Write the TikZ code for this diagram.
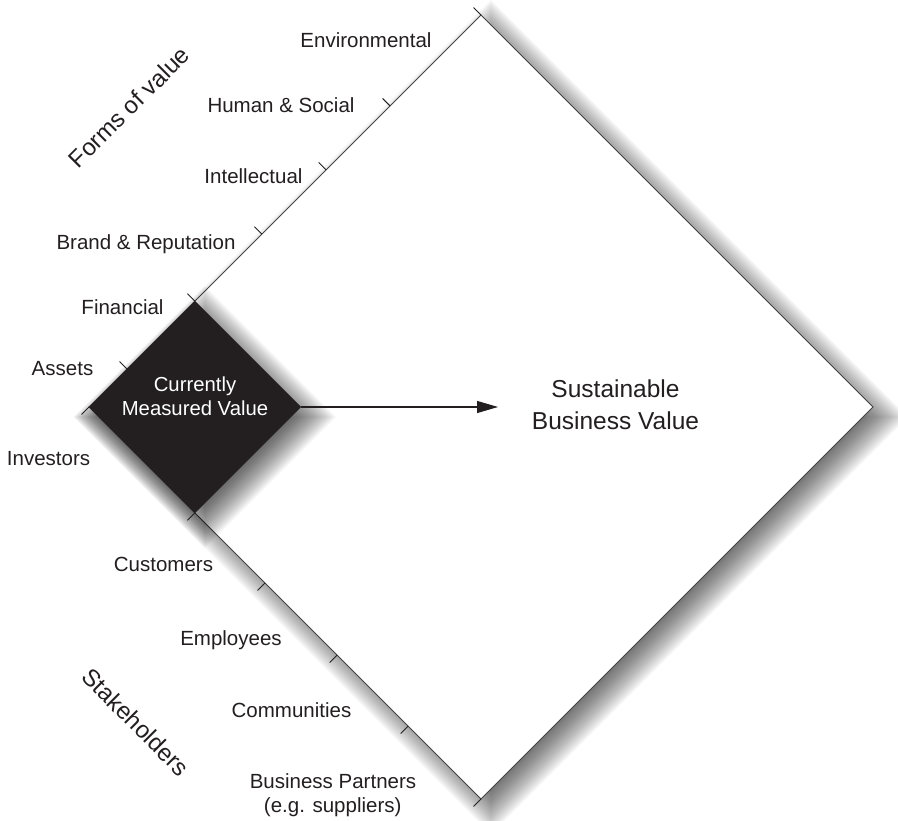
\documentclass[tikz,border=0pt]{standalone}
\usepackage{fontspec}
\setmainfont{Liberation Sans}
\usetikzlibrary{calc,arrows.meta}
\definecolor{ink}{HTML}{231F20}
\begin{document}
\begin{tikzpicture}[x=1pt,y=-1pt,
  lbl/.style={text=ink, font=\fontsize{20.5}{23}\selectfont, inner sep=0pt, anchor=base},
  biglbl/.style={text=ink, font=\fontsize{24.5}{28}\selectfont, inner sep=0pt, anchor=base},
  inlbl/.style={text=white, font=\fontsize{20.3}{23}\selectfont, inner sep=0pt, anchor=base},
  axislbl/.style={text=ink, font=\fontsize{24}{28}\selectfont, inner sep=0pt},
  outline/.style={draw=ink!85, line width=1pt},
  tickmark/.style={draw=ink, line width=0.9pt},
  shadowlayer/.style={fill=black, fill opacity=0.022},
  connector/.style={draw=ink, line width=1.1pt, -{Triangle[length=21pt,width=12pt]}}]
\useasboundingbox (0,0) rectangle (898,821);

% corners of the large diamond
\coordinate (T) at (481,15);
\coordinate (L) at (89,407);
\coordinate (R) at (873,407);
\coordinate (B) at (481,799);
% corners of the small diamond
\coordinate (sT) at (195,301);
\coordinate (sR) at (301,407);
\coordinate (sB) at (195,513);

% soft shadow of the large diamond
\foreach \e in {-18,...,18}{
  \pgfmathsetmacro\h{392+1.4142*\e}
  \fill[shadowlayer] (491,{417-\h}) -- ({491+\h},417) -- (491,{417+\h}) -- ({491-\h},417) -- cycle;
}
% large diamond
\fill[white] (T) -- (R) -- (B) -- (L) -- cycle;
\draw[outline] (T) -- (R) -- (B) -- (L) -- cycle;

% soft shadow of the small diamond
\foreach \e in {-18,...,18}{
  \pgfmathsetmacro\h{106+1.4142*\e}
  \fill[shadowlayer] (205,{417-\h}) -- ({205+\h},417) -- (205,{417+\h}) -- ({205-\h},417) -- cycle;
}
% small diamond
\fill[ink] (sT) -- (sR) -- (sB) -- (L) -- cycle;

% ticks on the upper-left edge (forms of value)
\foreach \f in {0.097,0.27,0.441,0.605,0.768,1.0}{
  \draw[tickmark] ($(L)!\f!(T)$) -- ++(-7.5,-7.5);
}
% ticks on the lower-left edge (stakeholders)
\foreach \f in {0,0.27,0.449,0.633,0.814,1.0}{
  \draw[tickmark] ($(L)!\f!(B)$) -- ++(-7.5,7.5);
}

% labels: forms of value
\node[lbl] (env) at (366,48) {Environmental};
\node[lbl] (hum) at (281,113) {Human \& Social};
\node[lbl] (int) at (253.5,184) {Intellectual};
\node[lbl] (brand) at (146,250) {Brand \& Reputation};
\node[lbl] (fin) at (122.5,315) {Financial};
\node[lbl] (ass) at (62.5,375.5) {Assets};
% labels: stakeholders
\node[lbl] (inv) at (48.5,465) {Investors};
\node[lbl] (cus) at (163.5,571) {Customers};
\node[lbl] (emp) at (231,645.5) {Employees};
\node[lbl] (com) at (291.5,717) {Communities};
\node[lbl] (bp1) at (333,788) {Business Partners};
\node[lbl] (bp2) at (332.7,812) {(e.g. suppliers)};

% axis titles
\node[axislbl, rotate=45] (forms) at (129,107) {Forms of value};
\node[axislbl, rotate=-45] (stake) at (136,722) {Stakeholders};

% diamond texts
\node[inlbl] (cmv1) at (195,391.5) {Currently};
\node[inlbl] (cmv2) at (195,415) {Measured Value};
\node[biglbl] (sbv1) at (615.5,398) {Sustainable};
\node[biglbl] (sbv2) at (615.5,429) {Business Value};

% arrow
\coordinate (aEnd) at (498,407);
\draw[connector] (sR) -- (aEnd);
\end{tikzpicture}
\end{document}
